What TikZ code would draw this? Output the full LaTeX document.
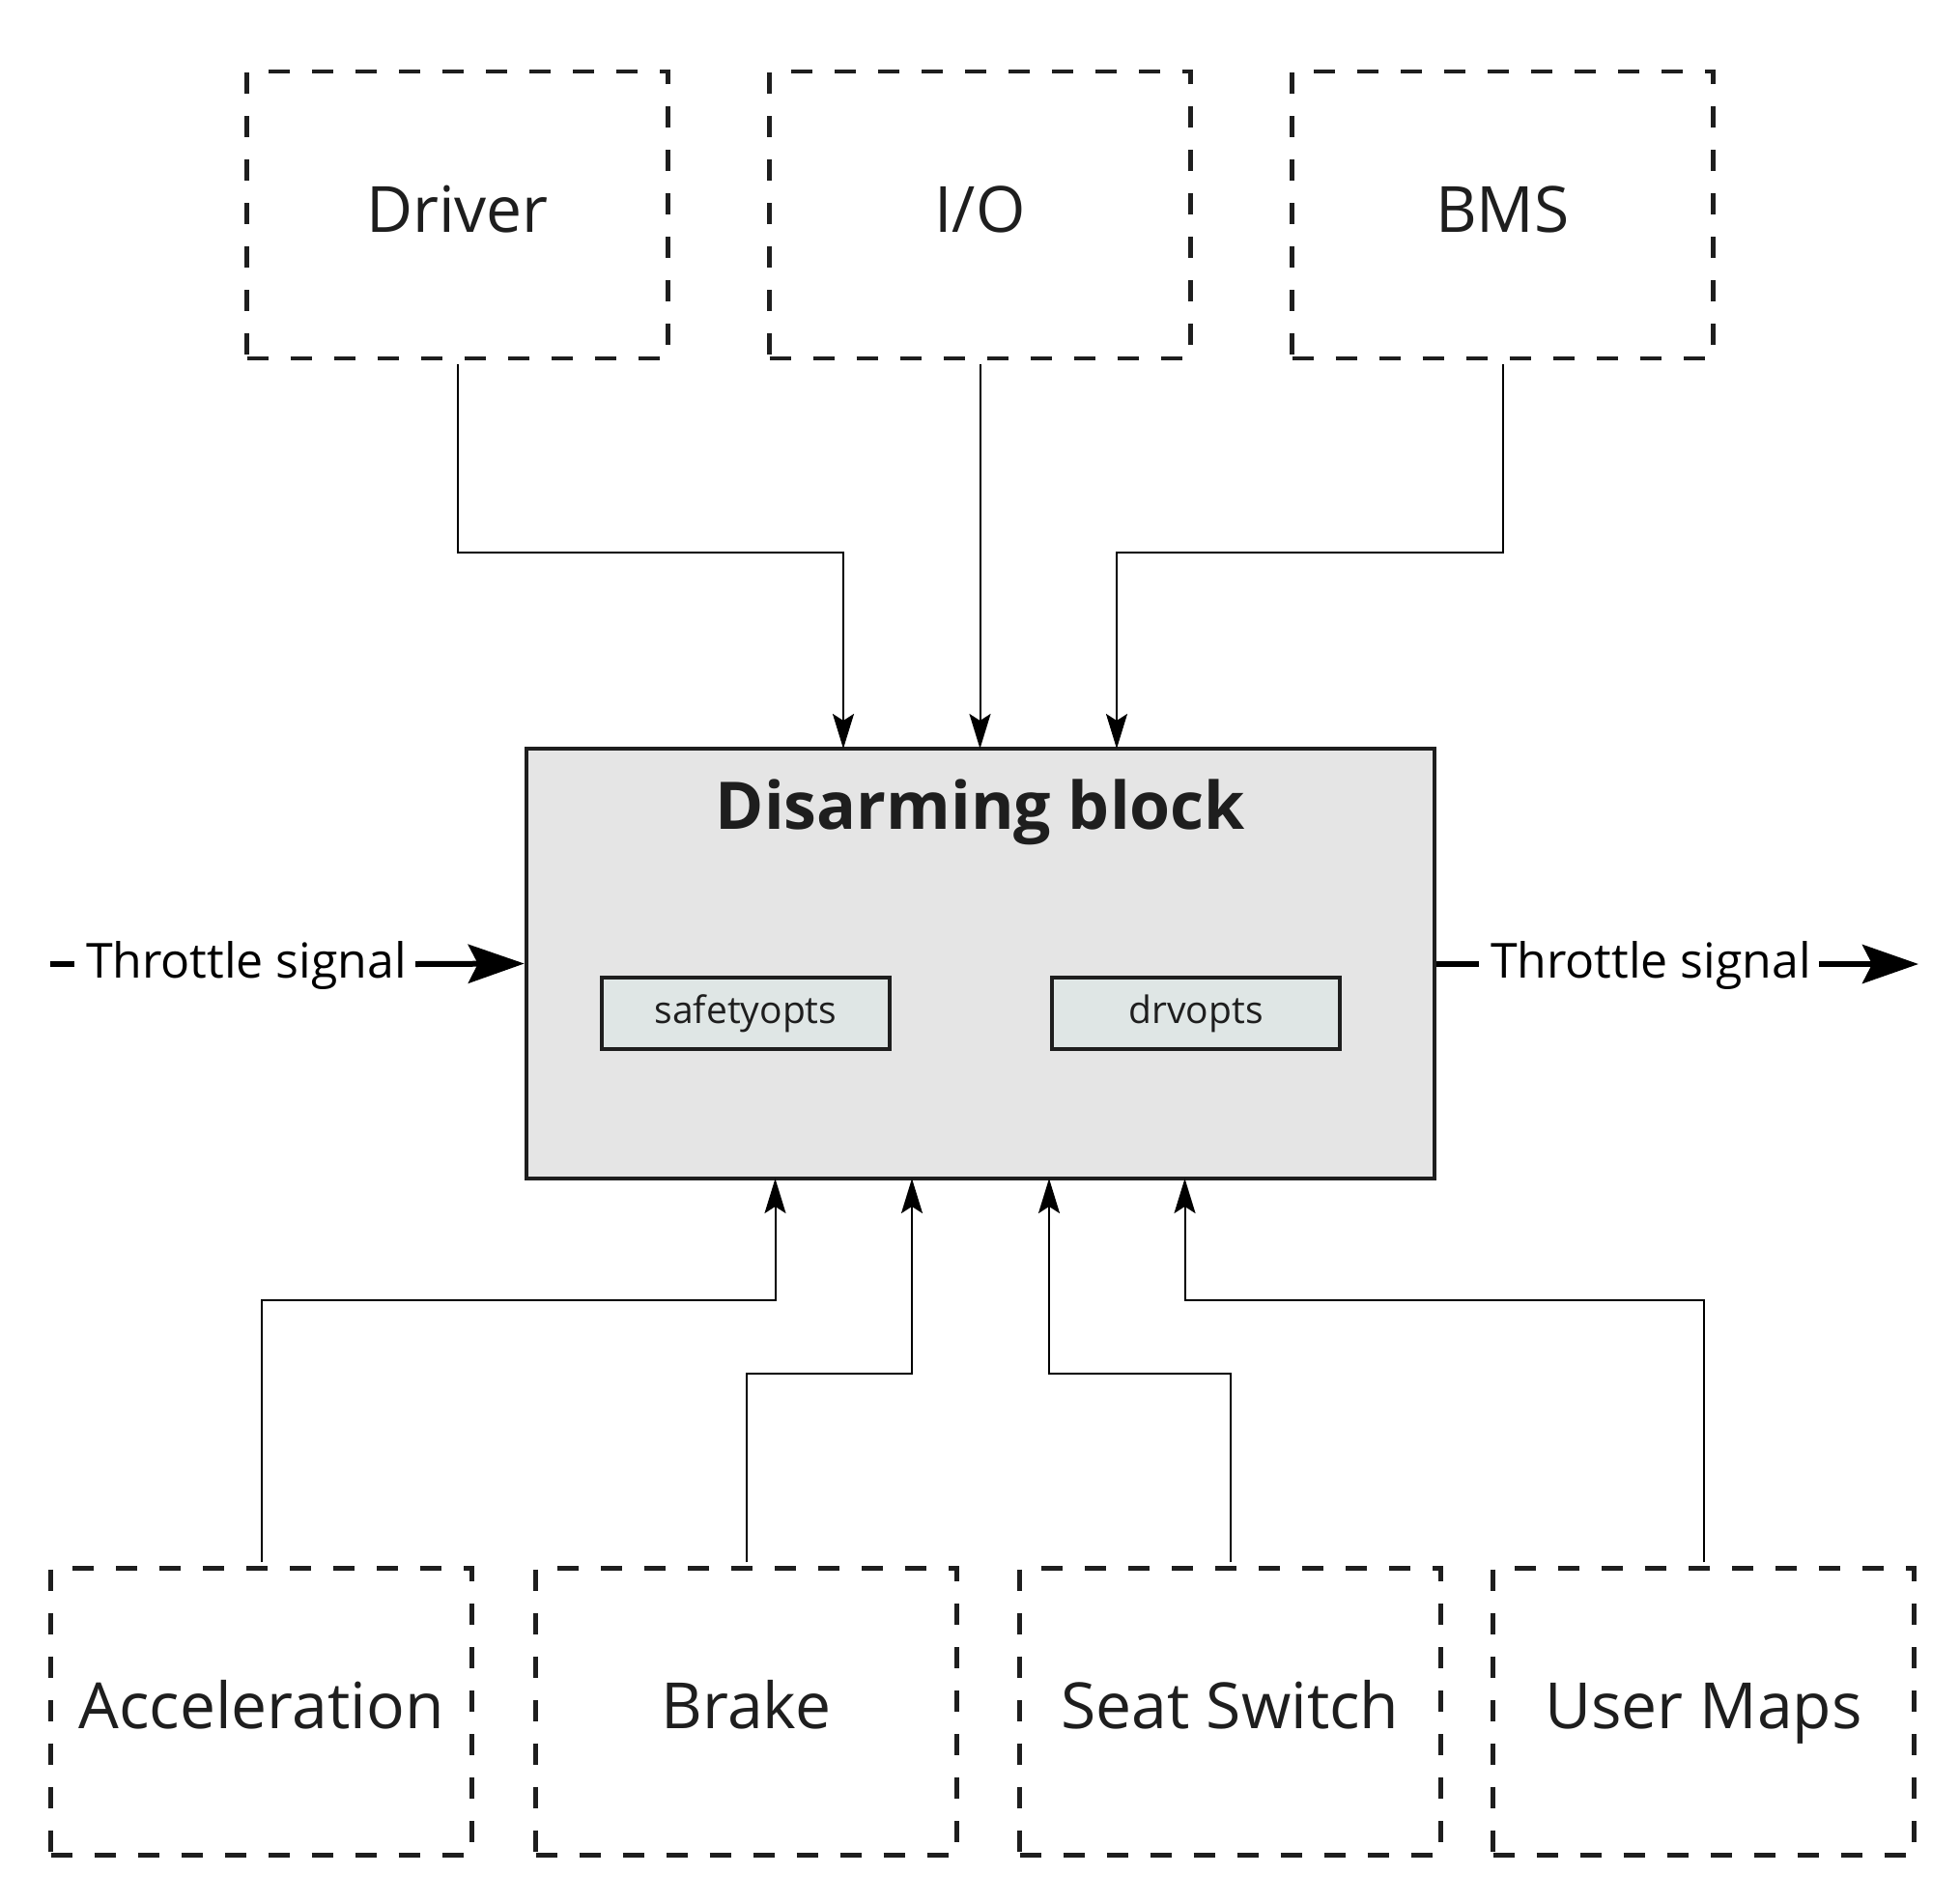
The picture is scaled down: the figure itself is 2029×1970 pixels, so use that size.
\documentclass[tikz,border=0pt]{standalone}
\usepackage{fontspec}
\setmainfont{Open Sans}
\usetikzlibrary{arrows.meta,calc}
\definecolor{ink}{HTML}{1E1E1E}
\definecolor{mainfill}{HTML}{E5E5E5}
\definecolor{optfill}{HTML}{DFE6E5}
\tikzset{
  srcbox/.style={draw=ink, line width=4.5pt, dash pattern=on 22pt off 23pt,
    minimum width=436pt, minimum height=297pt, inner sep=0pt,
    text height=47pt, text depth=12pt,
    font=\fontsize{66}{79}\selectfont, text=ink},
  mainbox/.style={draw=ink, fill=mainfill, line width=4.5pt,
    minimum width=940pt, minimum height=445pt, inner sep=0pt},
  optbox/.style={draw=ink, fill=optfill, line width=4pt,
    minimum width=298pt, minimum height=74pt, inner sep=0pt,
    font=\fontsize{39}{47}\selectfont, text=ink},
  titletext/.style={font=\bfseries\fontsize{68}{80}\selectfont, text=ink, inner sep=0pt},
  sigtext/.style={font=\fontsize{50}{60}\selectfont, text=black, inner sep=8pt},
  conn/.style={draw=black, line width=2pt, shorten <=4pt,
    -{Stealth[length=36pt,width=22pt,inset=7pt]}},
  sigline/.style={draw=black, line width=6pt},
  sigarrow/.style={draw=black, line width=6pt,
    -{Stealth[length=58pt,width=40pt,inset=10pt]}}
}
\begin{document}
\begin{tikzpicture}[x=1pt,y=-1pt]
\useasboundingbox (0,0) rectangle (2029,1970);
% source boxes (top)
\node[srcbox] (drv) at (473.5,222.5) {Driver};
\node[srcbox] (io)  at (1014.5,222.5) {I/O};
\node[srcbox] (bms) at (1555.5,222.5) {BMS};
% main block
\node[mainbox] (main) at (1015,997.5) {};
\node[titletext, anchor=base] (title) at (1015,858) {Disarming block};
\node[optbox] (saf) at (772,1049) {safetyopts};
\node[optbox] (drvo) at (1238,1049) {drvopts};
% bottom boxes
\node[srcbox] (acc)  at (270.5,1772) {Acceleration};
\node[srcbox] (brk)  at (772.5,1772) {Brake};
\node[srcbox] (seat) at (1273.5,1772) {Seat Switch};
\node[srcbox] (usr)  at (1763.5,1772) {User Maps};
% entry points on the main block
\coordinate (mD) at (873,775);
\coordinate (mI) at (1014.5,775);
\coordinate (mB) at (1156,775);
\coordinate (mA) at (802.5,1220);
\coordinate (mR) at (944,1220);
\coordinate (mS) at (1086,1220);
\coordinate (mU) at (1226.5,1220);
% top connectors
\draw[conn] (drv.south) -- (473.5,572) -| (mD);
\draw[conn] (io.south) -- (mI);
\draw[conn] (bms.south) -- (1555.5,572) -| (mB);
% bottom connectors
\draw[conn] (acc.north) -- (270.5,1346) -| (mA);
\draw[conn] (brk.north) -- (772.5,1422) -| (mR);
\draw[conn] (seat.north) -- (1273.5,1422) -| (mS);
\draw[conn] (usr.north) -- (1763.5,1346) -| (mU);
% throttle signals
\node[sigtext] (tl) at (255,999) {Throttle signal};
\coordinate (tlstart) at (52,998);
\draw[sigline] (tlstart) -- ([xshift=-4pt]tl.west |- tlstart);
\draw[sigarrow] ([xshift=1pt]tl.east |- tlstart) -- (main.west);
\node[sigtext] (tr) at (1709,999) {Throttle signal};
\coordinate (trend) at (1986,998);
\draw[sigline] (main.east |- trend) -- ([xshift=-4pt]tr.west |- trend);
\draw[sigarrow] ([xshift=0pt]tr.east |- trend) -- (trend);
\end{tikzpicture}
\end{document}
